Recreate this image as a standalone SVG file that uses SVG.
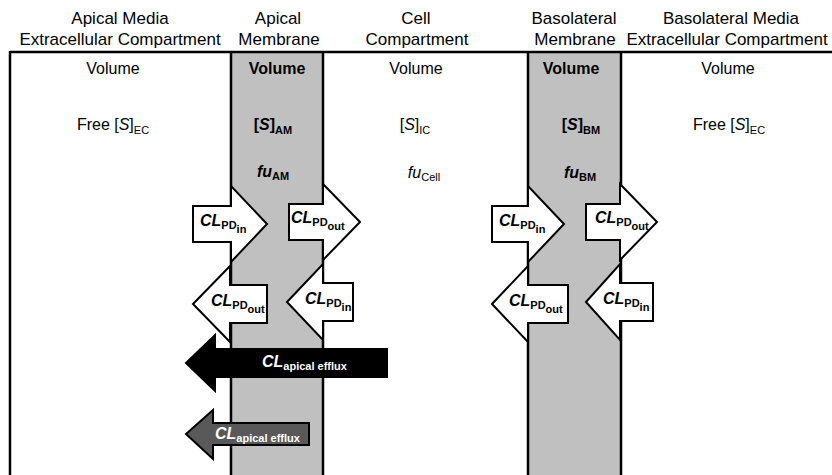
<svg xmlns="http://www.w3.org/2000/svg" width="832" height="475" viewBox="0 0 832 475">
<style>
text{font-family:"Liberation Sans",Arial,sans-serif;fill:#000}
.h{font-size:17px;text-anchor:middle}
.t{font-size:16px;text-anchor:middle}
.b{font-weight:bold}
.i{font-style:italic}
.sub{font-size:11px}
.lbl{font-size:16px;font-weight:bold}
.w{fill:#fff}
.mem{fill:#c0c0c0;stroke:none}
.line{stroke:#000;stroke-width:2.5;fill:none}
.arr{fill:#fff;stroke:#000;stroke-width:2;stroke-linejoin:miter}
</style>
<rect width="832" height="475" fill="#fff"/>
<g id="header">
<text class="h" x="120" y="24">Apical Media</text>
<text class="h" x="120" y="45">Extracellular Compartment</text>
<text class="h" x="278" y="24">Apical</text>
<text class="h" x="279" y="45">Membrane</text>
<text class="h" x="416" y="24">Cell</text>
<text class="h" x="417" y="45">Compartment</text>
<text class="h" x="574" y="24">Basolateral</text>
<text class="h" x="575" y="45">Membrane</text>
<text class="h" x="731" y="24">Basolateral Media</text>
<text class="h" x="727" y="45">Extracellular Compartment</text>
</g>
<g id="apical-membrane">
<rect class="mem" x="231" y="52" width="92" height="423"/>
<line class="line" x1="231" y1="52" x2="231" y2="475"/>
<line class="line" x1="323" y1="52" x2="323" y2="475"/>
</g>
<g id="basolateral-membrane">
<rect class="mem" x="528" y="52" width="93" height="423"/>
<line class="line" x1="528" y1="52" x2="528" y2="475"/>
<line class="line" x1="621" y1="52" x2="621" y2="475"/>
</g>
<g id="frame">
<line class="line" x1="10" y1="52" x2="832" y2="52"/>
<line class="line" x1="10" y1="51" x2="10" y2="475"/>
</g>
<g id="apical-media">
<text class="t" x="113" y="74">Volume</text>
<text class="t" x="113" y="130">Free [<tspan class="i">S</tspan>]<tspan class="sub" dy="4">EC</tspan></text>
</g>
<g id="apical-membrane-text">
<text class="t b" x="277" y="74">Volume</text>
<text class="t b" x="273" y="130">[<tspan class="i">S</tspan>]<tspan class="sub" dy="4">AM</tspan></text>
<text class="t b" x="273" y="177"><tspan class="i">fu</tspan><tspan class="sub" dy="3">AM</tspan></text>
</g>
<g id="cell">
<text class="t" x="416" y="74">Volume</text>
<text class="t" x="415" y="130">[<tspan class="i">S</tspan>]<tspan class="sub" dy="4">IC</tspan></text>
<text class="t" x="424" y="178"><tspan class="i">fu</tspan><tspan class="sub" dy="3">Cell</tspan></text>
</g>
<g id="basolateral-membrane-text">
<text class="t b" x="571" y="74">Volume</text>
<text class="t b" x="581" y="130">[<tspan class="i">S</tspan>]<tspan class="sub" dy="4">BM</tspan></text>
<text class="t b" x="580" y="178"><tspan class="i">fu</tspan><tspan class="sub" dy="3">BM</tspan></text>
</g>
<g id="basolateral-media">
<text class="t" x="728" y="74">Volume</text>
<text class="t" x="729" y="130">Free [<tspan class="i">S</tspan>]<tspan class="sub" dy="4">EC</tspan></text>
</g>
<g id="connectors">
<g id="a1"><polygon class="arr" points="193,206 231,206 231,186 267,224 231,262 231,242 193,242"/>
<text class="lbl" x="200" y="226"><tspan class="i">CL</tspan><tspan class="sub" dy="3">PD</tspan><tspan class="sub" dy="4">in</tspan></text></g>
<g id="a2"><polygon class="arr" points="289,204 323,204 323,184 360,222 323,260 323,240 289,240"/>
<text class="lbl" x="291" y="223"><tspan class="i">CL</tspan><tspan class="sub" dy="3">PD</tspan><tspan class="sub" dy="4">out</tspan></text></g>
<g id="a3"><polygon class="arr" points="193,304 230,266 230,285 267,285 267,323 230,323 230,342"/>
<text class="lbl" x="211" y="306"><tspan class="i">CL</tspan><tspan class="sub" dy="3">PD</tspan><tspan class="sub" dy="4">out</tspan></text></g>
<g id="a4"><polygon class="arr" points="287,302 323,264 323,283 353,283 353,321 323,321 323,340"/>
<text class="lbl" x="305" y="304"><tspan class="i">CL</tspan><tspan class="sub" dy="3">PD</tspan><tspan class="sub" dy="4">in</tspan></text></g>
<g id="a5"><polygon class="arr" points="492,206 528,206 528,186 564,224 528,262 528,242 492,242"/>
<text class="lbl" x="499" y="226"><tspan class="i">CL</tspan><tspan class="sub" dy="3">PD</tspan><tspan class="sub" dy="4">in</tspan></text></g>
<g id="a6"><polygon class="arr" points="586,204 620,204 620,184 657,222 620,260 620,240 586,240"/>
<text class="lbl" x="595" y="223"><tspan class="i">CL</tspan><tspan class="sub" dy="3">PD</tspan><tspan class="sub" dy="4">out</tspan></text></g>
<g id="a7"><polygon class="arr" points="492,304 528,266 528,285 568,285 568,323 528,323 528,342"/>
<text class="lbl" x="509" y="306"><tspan class="i">CL</tspan><tspan class="sub" dy="3">PD</tspan><tspan class="sub" dy="4">out</tspan></text></g>
<g id="a8"><polygon class="arr" points="586,302 620,264 620,283 653,283 653,321 620,321 620,340"/>
<text class="lbl" x="603" y="304"><tspan class="i">CL</tspan><tspan class="sub" dy="3">PD</tspan><tspan class="sub" dy="4">in</tspan></text></g>
<g id="efflux-black"><polygon points="186,363 215,335 215,349 387,349 387,377 215,377 215,391" fill="#000" stroke="#000" stroke-width="2"/>
<text class="lbl w" x="262" y="367"><tspan class="i w">CL</tspan><tspan class="sub w" dy="3">apical efflux</tspan></text></g>
<g id="efflux-gray"><polygon points="186,434 213,410 213,423 309,423 309,445 213,445 213,459" fill="#595959" stroke="#000" stroke-width="2"/>
<text class="lbl w" x="215" y="439"><tspan class="i w">CL</tspan><tspan class="sub w" dy="3">apical efflux</tspan></text></g>
</g>
</svg>
